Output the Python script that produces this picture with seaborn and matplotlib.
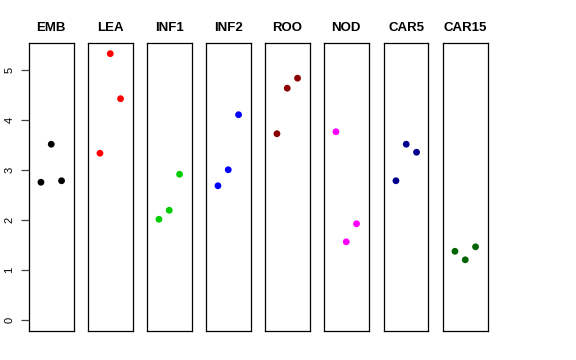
import matplotlib
matplotlib.use("Agg")
import matplotlib.pyplot as plt
import seaborn as sns
import pandas as pd

sns.set_style("white")
plt.rcParams['font.family'] = ['Liberation Sans', 'DejaVu Sans']
plt.rcParams['text.color'] = 'black'
plt.rcParams['ytick.color'] = 'black'
plt.rcParams['axes.labelcolor'] = 'black'

tissues = ["EMB", "LEA", "INF1", "INF2", "ROO", "NOD", "CAR5", "CAR15"]
colors = ["#000000", "#FF0000", "#00CD00", "#0000FF", "#8B0000", "#FF00FF", "#00008B", "#006400"]
replicate = [1, 2, 3]
EMB = [2.76, 3.52, 2.79]
LEA = [3.34, 5.33, 4.43]
INF1 = [2.02, 2.20, 2.92]
INF2 = [2.69, 3.01, 4.11]
ROO = [3.73, 4.64, 4.84]
NOD = [3.77, 1.57, 1.93]
CAR5 = [2.79, 3.52, 3.36]
CAR15 = [1.38, 1.21, 1.47]
values = [EMB, LEA, INF1, INF2, ROO, NOD, CAR5, CAR15]
y_ticks = [0, 1, 2, 3, 4, 5]

W, H = 576, 360
fig = plt.figure(figsize=(W / 100, H / 100), dpi=100)

ymax = max(max(v) for v in values)
ymin = 0.0
yr = ymax - ymin
xr = 4.0

lefts = [29, 88, 147, 206, 265, 324, 384, 443]
pw = 44.5
top, bottom = 43, 331

for i, (name, col, vals) in enumerate(zip(tissues, colors, values)):
    ax = fig.add_axes([lefts[i] / W, 1 - bottom / H, pw / W, (bottom - top) / H])
    df = pd.DataFrame({"x": replicate, "y": vals})
    sns.scatterplot(data=df, x="x", y="y", ax=ax, color=col, s=24,
                    edgecolor="none", linewidth=0)
    ax.set_xlim(0 - 0.04 * xr, 4 + 0.04 * xr)
    ax.set_ylim(ymin - 0.04 * yr, ymax + 0.04 * yr)
    ax.set_xticks([])
    ax.set_xlabel("")
    ax.set_ylabel("")
    for sp in ax.spines.values():
        sp.set_color("black")
        sp.set_linewidth(0.9)
        sp.set_visible(True)
    ax.set_title(name, fontsize=9.5, fontweight="bold", pad=8.5, color="black")
    if i == 0:
        ax.set_yticks(y_ticks)
        ax.set_yticklabels([str(t) for t in y_ticks], rotation=90, va="center",
                           fontsize=8, color="black")
        ax.tick_params(axis="y", length=5.5, width=0.9, pad=5, left=True,
                       color="#444444")
    else:
        ax.set_yticks([])

fig.savefig("out.png", dpi=100)
